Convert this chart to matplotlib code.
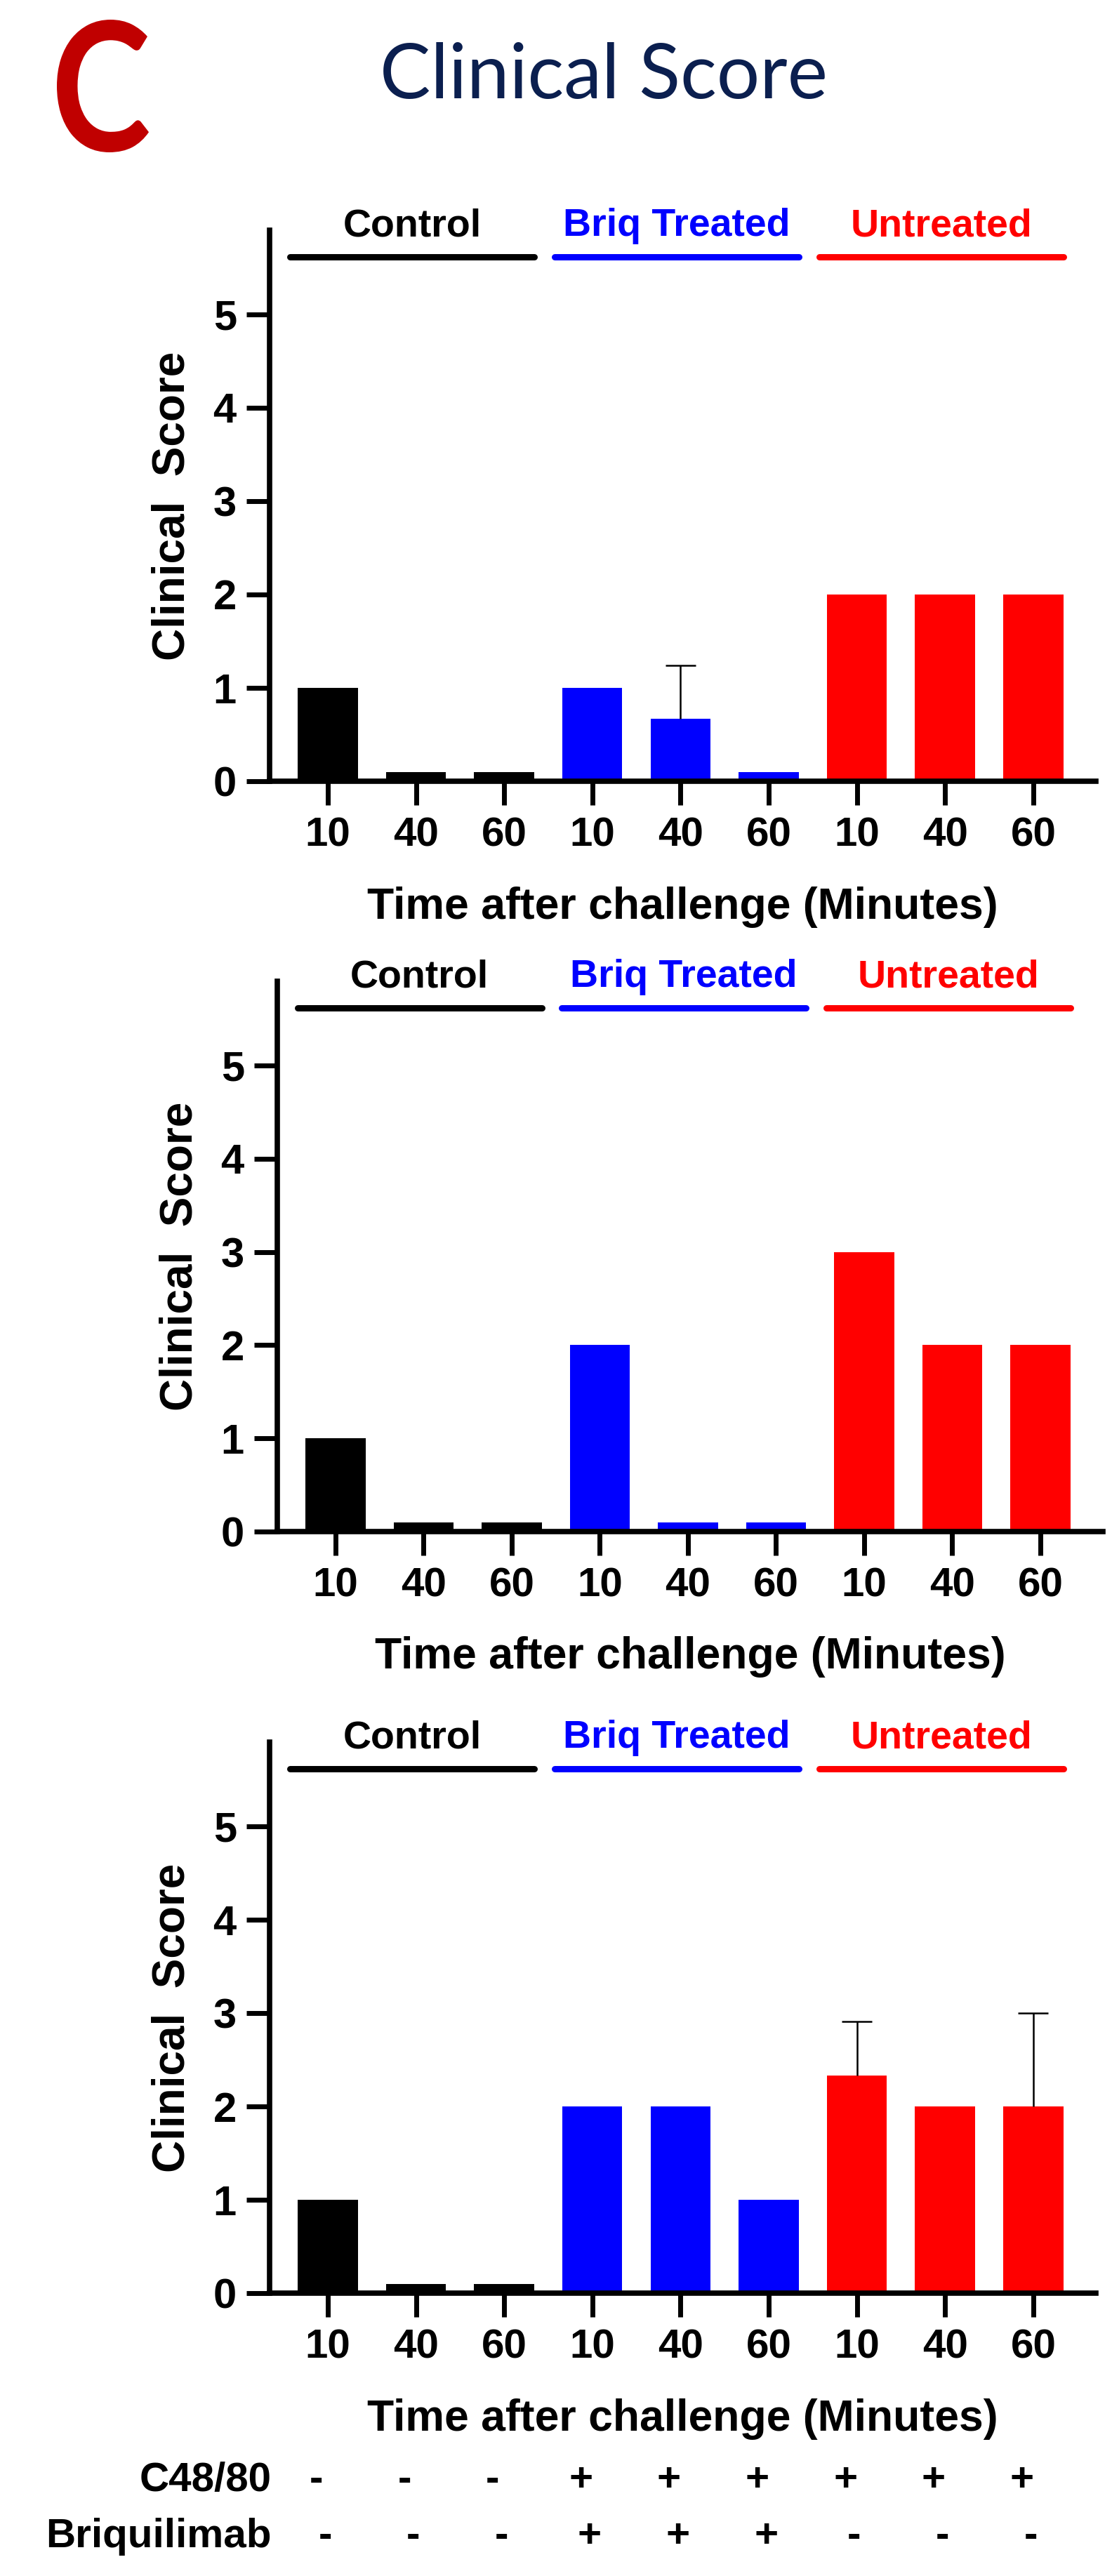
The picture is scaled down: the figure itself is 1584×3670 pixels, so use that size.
import numpy as np
import matplotlib
matplotlib.use('Agg')
import matplotlib.pyplot as plt
from matplotlib.transforms import blended_transform_factory, Affine2D
from matplotlib.textpath import TextPath
from matplotlib.patches import PathPatch
from matplotlib.font_manager import FontProperties

# ---- data ----
time_labels = ['10', '40', '60', '10', '40', '60', '10', '40', '60']
groups = ['Control', 'Briq Treated', 'Untreated']
group_colors = ['#000000', '#0000ff', '#ff0000']

score_top = [1, 0, 0, 1, 0.667, 0, 2, 2, 2]
sd_top = [0, 0, 0, 0, 0.577, 0, 0, 0, 0]

score_mid = [1, 0, 0, 2, 0, 0, 3, 2, 2]
sd_mid = [0, 0, 0, 0, 0, 0, 0, 0, 0]

score_bot = [1, 0, 0, 2, 2, 1, 2.333, 2, 2]
sd_bot = [0, 0, 0, 0, 0, 0, 0.577, 0, 1.0]

c4880 = ['-', '-', '-', '+', '+', '+', '+', '+', '+']
briquilimab = ['-', '-', '-', '+', '+', '+', '-', '-', '-']

# zero scores are shown as a thin bar, like the original software does
ZERO_BAR = 0.1

plt.rcParams['font.family'] = 'Liberation Sans'
plt.rcParams['font.weight'] = 'bold'

W, H = 1584, 3670
fig = plt.figure(figsize=(W / 100, H / 100), dpi=100)


def rect(left, right, zero_y, unit=133, ymax=5.9):
    top_y = zero_y - unit * ymax
    return [left / W, 1 - zero_y / H, (right - left) / W, (zero_y - top_y) / H]


def draw_panel(ax, scores, sds):
    x = np.arange(len(scores))
    scores = np.array(scores, dtype=float)
    sds = np.array(sds, dtype=float)
    colors = [group_colors[i // 3] for i in x]
    ax.bar(x, np.maximum(scores, ZERO_BAR), width=0.68, color=colors, zorder=2)

    # upper-only error bars (SD)
    has = sds > 0
    if has.any():
        tops = scores[has] + sds[has]
        ax.vlines(x[has], scores[has], tops, color='black', lw=1.8, zorder=3)
        ax.hlines(tops, x[has] - 0.17, x[has] + 0.17, color='black', lw=1.8, zorder=3)

    ax.set_xlim(-0.66, 8.71)
    ax.set_ylim(0, 5.9)
    for s in ['top', 'right']:
        ax.spines[s].set_visible(False)
    for s in ['left', 'bottom']:
        ax.spines[s].set_linewidth(5.5)
    ax.set_yticks(range(6))
    ax.set_xticks(x)
    ax.set_xticklabels(time_labels)
    ax.tick_params(axis='y', length=24, width=5, pad=10, labelsize=43)
    ax.tick_params(axis='x', length=24.5, width=5, pad=12, labelsize=42)

    # group bars + labels above the plot
    for g, name in enumerate(groups):
        start, end = 3 * g - 0.43, 3 * g + 2 + 0.34
        ax.plot([start, end], [5.62, 5.62], color=group_colors[g], lw=6.5,
                solid_capstyle='round', clip_on=False)
        ax.text((start + end) / 2, 5.84, name, color=group_colors[g],
                ha='center', va='baseline', fontsize=40, fontweight='bold')

    ax.text(-0.118, 0.5, 'Clinical  Score', transform=ax.transAxes, rotation=90,
            ha='center', va='center', fontsize=46, fontweight='bold')
    tr = blended_transform_factory(ax.transAxes, ax.transData)
    ax.text(0.5, -1.47, 'Time after challenge (Minutes)', transform=tr,
            ha='center', va='baseline', fontsize=45, fontweight='bold')


ax1 = fig.add_axes(rect(384, 1561, 1113))
draw_panel(ax1, score_top, sd_top)

ax2 = fig.add_axes(rect(395, 1571, 2182, unit=132.8))
draw_panel(ax2, score_mid, sd_mid)

ax3 = fig.add_axes(rect(384, 1561, 3267))
draw_panel(ax3, score_bot, sd_bot)

# treatment table under the last panel
rows = [('C48/80', c4880, -2.12, -0.13), ('Briquilimab', briquilimab, -2.72, -0.03)]
for label, signs, y, shift in rows:
    ax3.text(-0.64, y, label, ha='right', va='baseline', fontsize=42,
             fontweight='bold', clip_on=False)
    for i, s in enumerate(signs):
        ax3.text(i + shift, y, s, ha='center', va='baseline', fontsize=42,
                 fontweight='bold', clip_on=False)

# panel letter: a narrow "C", squeezed into its box (pixels, top-left origin)
letter = TextPath((0, 0), 'C', size=100, prop=FontProperties(family='Lato'))
ext = letter.get_extents()
x0, x1, y0, y1 = 81, 212, 28, 217
squeeze = (Affine2D()
           .translate(-ext.x0, -ext.y0)
           .scale((x1 - x0) / ext.width / W, (y1 - y0) / ext.height / H)
           .translate(x0 / W, 1 - y1 / H))
fig.patches.append(PathPatch(letter, transform=squeeze + fig.transFigure,
                             facecolor='#c00000', edgecolor='none'))

fig.text(860 / W, 1 - 140 / H, 'Clinical Score', color='#0b1f4f', family='Lato',
         fontweight='normal', fontsize=78, ha='center', va='baseline')

fig.savefig('out.png', dpi=100, facecolor='white')
